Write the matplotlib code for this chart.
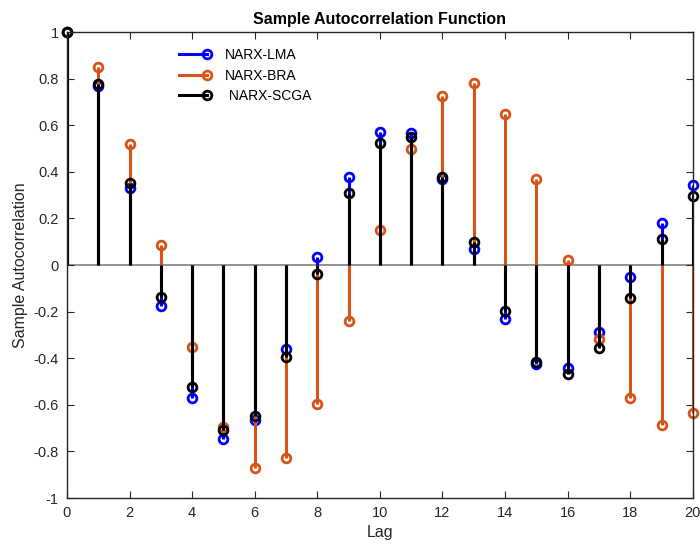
import numpy as np
import matplotlib
matplotlib.use("Agg")
import matplotlib.pyplot as plt
from matplotlib.legend_handler import HandlerLine2D

plt.rcParams['font.family'] = ['Liberation Sans', 'DejaVu Sans']

lags = np.arange(0, 21)
acf_lma = [1.0, 0.77, 0.33, -0.175, -0.57, -0.748, -0.665, -0.36, 0.035, 0.378, 0.571,
           0.567, 0.369, 0.067, -0.232, -0.425, -0.44, -0.287, -0.052, 0.18, 0.343]
acf_bra = [1.0, 0.85, 0.52, 0.085, -0.353, -0.695, -0.872, -0.83, -0.597, -0.24, 0.15,
           0.50, 0.725, 0.78, 0.648, 0.369, 0.021, -0.318, -0.571, -0.687, -0.636]
acf_scga = [1.0, 0.775, 0.35, -0.138, -0.525, -0.708, -0.648, -0.394, -0.04, 0.309, 0.524,
            0.549, 0.378, 0.097, -0.197, -0.415, -0.468, -0.357, -0.141, 0.11, 0.296]

series = [
    (acf_lma, 'NARX-LMA', '#0000FF'),
    (acf_bra, 'NARX-BRA', '#D95319'),
    (acf_scga, ' NARX-SCGA', '#000000'),
]


class StemLegendHandler(HandlerLine2D):
    # line with a single marker at its right end, like MATLAB stem legends
    def create_artists(self, legend, orig_handle, xdescent, ydescent,
                       width, height, fontsize, trans):
        artists = super().create_artists(legend, orig_handle, xdescent, ydescent,
                                         width, height, fontsize, trans)
        for a in artists:
            n = len(a.get_xdata())
            a.set_markevery([n - 1])
        return artists


fig = plt.figure(figsize=(7, 5.48), dpi=100)
ax = fig.add_axes([0.0957, 0.0912, 0.894, 0.8504])

ax.axhline(0, color='#808080', lw=1.2, zorder=1)
handles = []
for vals, label, col in series:
    markerline, stemlines, baseline = ax.stem(lags, vals)
    plt.setp(stemlines, color=col, linewidth=2.2)
    plt.setp(markerline, color=col, marker='o', markersize=6.3,
             markerfacecolor='none', markeredgewidth=2.0, clip_on=False)
    baseline.set_visible(False)
    h, = ax.plot([], [], color=col, lw=2.2, marker='o', markersize=6.3,
                 markerfacecolor='none', markeredgewidth=2.0, label=label)
    handles.append(h)

ax.set_xlim(0, 20)
ax.set_ylim(-1, 1)
ax.set_xticks(np.arange(0, 21, 2))
ax.set_yticks(np.round(np.arange(-1, 1.01, 0.2), 1))
ax.set_yticklabels(['-1', '-0.8', '-0.6', '-0.4', '-0.2', '0', '0.2', '0.4', '0.6', '0.8', '1'])
ax.tick_params(direction='in', top=True, right=True, length=5, labelsize=10.5,
               colors='#262626', pad=6)
for s in ax.spines.values():
    s.set_color('#262626')
    s.set_linewidth(1.0)

ax.set_xlabel('Lag', fontsize=11.5, color='#262626', labelpad=3)
ax.set_ylabel('Sample Autocorrelation', fontsize=11.5, color='#262626', labelpad=4)
ax.set_title('Sample Autocorrelation Function', fontsize=11.5, fontweight='bold', pad=6)

ax.legend(handles=handles, loc='upper left', bbox_to_anchor=(0.1725, 0.965),
          frameon=False, numpoints=2, handlelength=2.6, fontsize=10,
          labelspacing=0.45, handletextpad=1.0, borderpad=0, borderaxespad=0,
          handler_map={h: StemLegendHandler() for h in handles})

fig.savefig('out.png', dpi=100)
